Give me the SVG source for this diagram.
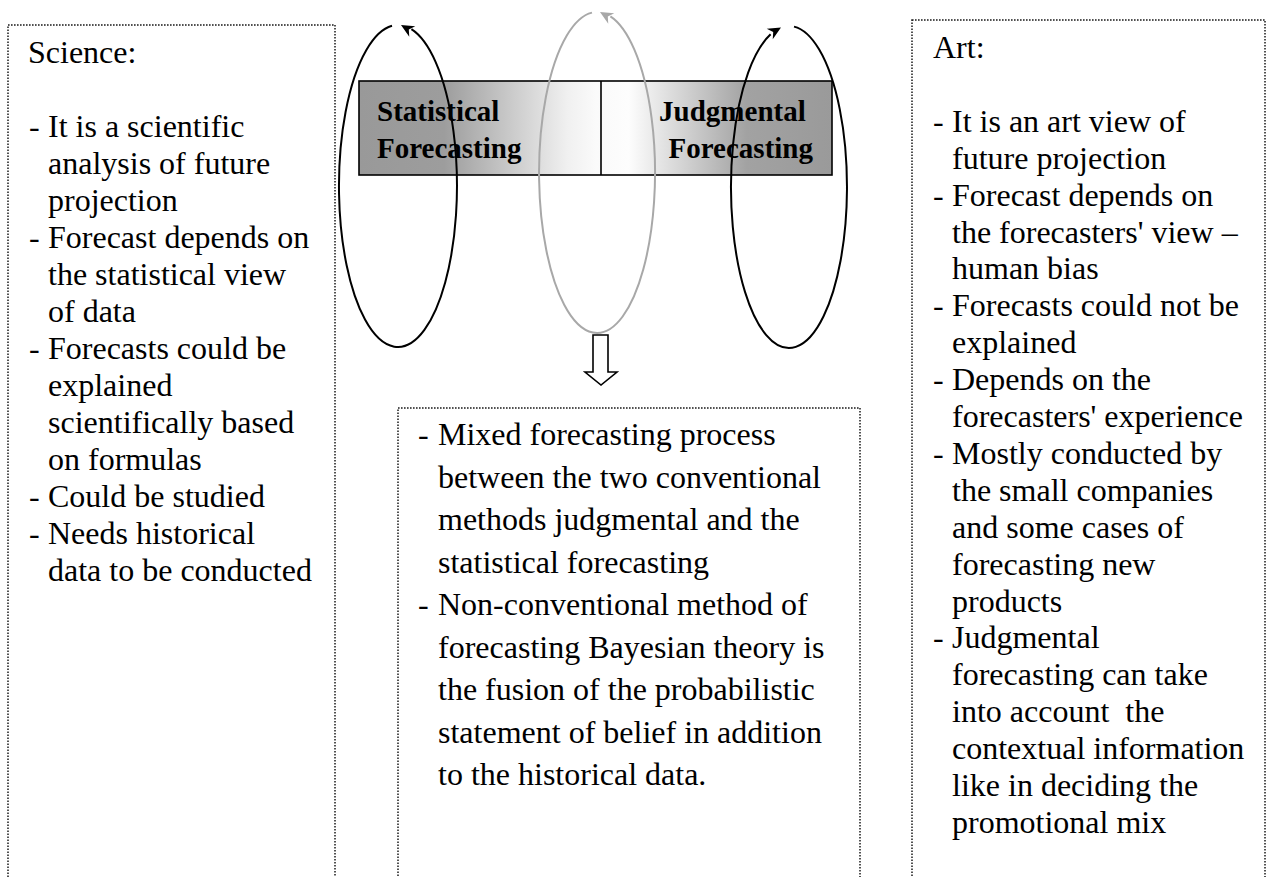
<svg xmlns="http://www.w3.org/2000/svg" xmlns:xlink="http://www.w3.org/1999/xlink" width="1267" height="877" viewBox="0 0 1267 877">
  <style>
    .panel { fill: #ffffff; stroke: #1a1a1a; stroke-width: 1.5; stroke-dasharray: 1.6 1.4; }
    .body { font-family: "Liberation Serif", "Times New Roman", serif; font-size: 32px; fill: #000000; }
    .title { font-family: "Liberation Serif", "Times New Roman", serif; font-size: 29px; font-weight: bold; fill: #000000; }
    .loop { fill: none; stroke: #000000; stroke-width: 2; }
    .loop-grey { fill: none; stroke: #a8a8a8; stroke-width: 2; }
  </style>
  <defs>
    <linearGradient id="bandShade" x1="359" y1="0" x2="832" y2="0" gradientUnits="userSpaceOnUse">
      <stop offset="0" stop-color="#999999"/>
      <stop offset="0.18" stop-color="#9d9d9d"/>
      <stop offset="0.44" stop-color="#f0f0f0"/>
      <stop offset="0.5" stop-color="#fafafa"/>
      <stop offset="0.57" stop-color="#fdfdfd"/>
      <stop offset="0.82" stop-color="#a2a2a2"/>
      <stop offset="1" stop-color="#9a9a9a"/>
    </linearGradient>
    <path id="head" d="M0,0 L-13,-6 L-9,0 L-13,6 Z"/>
  </defs>

  <!-- Science panel -->
  <g id="science">
    <rect class="panel" x="8" y="25" width="327" height="900"/>
    <text class="body">
      <tspan x="28" y="63">Science:</tspan>
      <tspan x="29" y="137">-</tspan><tspan x="48">It is a scientific</tspan>
      <tspan x="48" y="174">analysis of future</tspan>
      <tspan x="48" y="211">projection</tspan>
      <tspan x="29" y="248">-</tspan><tspan x="48">Forecast depends on</tspan>
      <tspan x="48" y="285">the statistical view</tspan>
      <tspan x="48" y="322">of data</tspan>
      <tspan x="29" y="359">-</tspan><tspan x="48">Forecasts could be</tspan>
      <tspan x="48" y="396">explained</tspan>
      <tspan x="48" y="433">scientifically based</tspan>
      <tspan x="48" y="470">on formulas</tspan>
      <tspan x="29" y="507">-</tspan><tspan x="48">Could be studied</tspan>
      <tspan x="29" y="544">-</tspan><tspan x="48">Needs historical</tspan>
      <tspan x="48" y="581">data to be conducted</tspan>
    </text>
  </g>

  <!-- Art panel -->
  <g id="art">
    <rect class="panel" x="912" y="20" width="353" height="900"/>
    <text class="body">
      <tspan x="933" y="58">Art:</tspan>
      <tspan x="933" y="131.8">-</tspan><tspan x="952">It is an art view of</tspan>
      <tspan x="952" y="168.7">future projection</tspan>
      <tspan x="933" y="205.6">-</tspan><tspan x="952">Forecast depends on</tspan>
      <tspan x="952" y="242.5">the forecasters' view –</tspan>
      <tspan x="952" y="279.4">human bias</tspan>
      <tspan x="933" y="316.3">-</tspan><tspan x="952">Forecasts could not be</tspan>
      <tspan x="952" y="353.2">explained</tspan>
      <tspan x="933" y="390.1">-</tspan><tspan x="952">Depends on the</tspan>
      <tspan x="952" y="427">forecasters' experience</tspan>
      <tspan x="933" y="463.9">-</tspan><tspan x="952">Mostly conducted by</tspan>
      <tspan x="952" y="500.8">the small companies</tspan>
      <tspan x="952" y="537.7">and some cases of</tspan>
      <tspan x="952" y="574.6">forecasting new</tspan>
      <tspan x="952" y="611.5">products</tspan>
      <tspan x="933" y="648.4">-</tspan><tspan x="952">Judgmental</tspan>
      <tspan x="952" y="685.3">forecasting can take</tspan>
      <tspan x="952" y="722.2" xml:space="preserve">into account  the</tspan>
      <tspan x="952" y="759.1">contextual information</tspan>
      <tspan x="952" y="796">like in deciding the</tspan>
      <tspan x="952" y="832.9">promotional mix</tspan>
    </text>
  </g>

  <!-- Mixed (Bayesian) panel -->
  <g id="mixed">
    <rect class="panel" x="398" y="408" width="462" height="900"/>
    <text class="body">
      <tspan x="418" y="445">-</tspan><tspan x="438">Mixed forecasting process</tspan>
      <tspan x="438" y="487.5">between the two conventional</tspan>
      <tspan x="438" y="530">methods judgmental and the</tspan>
      <tspan x="438" y="572.5">statistical forecasting</tspan>
      <tspan x="418" y="615">-</tspan><tspan x="438">Non-conventional method of</tspan>
      <tspan x="438" y="657.5">forecasting Bayesian theory is</tspan>
      <tspan x="438" y="700">the fusion of the probabilistic</tspan>
      <tspan x="438" y="742.5">statement of belief in addition</tspan>
      <tspan x="438" y="785">to the historical data.</tspan>
    </text>
  </g>

  <!-- Statistical / Judgmental band -->
  <g id="methods">
    <rect x="359" y="81" width="473" height="94" fill="url(#bandShade)" stroke="#000000" stroke-width="1.6"/>
    <line x1="601" y1="81" x2="601" y2="175" stroke="#000000" stroke-width="1.6"/>
    <text class="title">
      <tspan x="377" y="121">Statistical</tspan>
      <tspan x="377" y="158">Forecasting</tspan>
    </text>
    <text class="title" text-anchor="end">
      <tspan x="813" y="121">Judgmental</tspan>
      <tspan x="813" y="158">Forecasting</tspan>
    </text>
  </g>

  <!-- Cycles and the downward arrow -->
  <g id="connectors">
    <path class="loop" d="M392,25.8 A59,161 0 1,0 411.4,29.2"/>
    <use xlink:href="#head" href="#head" fill="#000000" transform="translate(401,25) rotate(210)"/>

    <path class="loop-grey" d="M592,12.6 A58,160.5 0 1,0 610.4,16.3"/>
    <use xlink:href="#head" href="#head" fill="#a8a8a8" transform="translate(600,12) rotate(210)"/>

    <path class="loop" d="M794,26.6 A58,161 0 1,1 770.6,34.3"/>
    <use xlink:href="#head" href="#head" fill="#000000" transform="translate(781,27.5) rotate(-30)"/>

    <path d="M593,335 L608,335 L608,372 L617,372 L601,385 L585,372 L593,372 Z" fill="#ffffff" stroke="#000000" stroke-width="1.6" stroke-linejoin="miter"/>
  </g>
</svg>
